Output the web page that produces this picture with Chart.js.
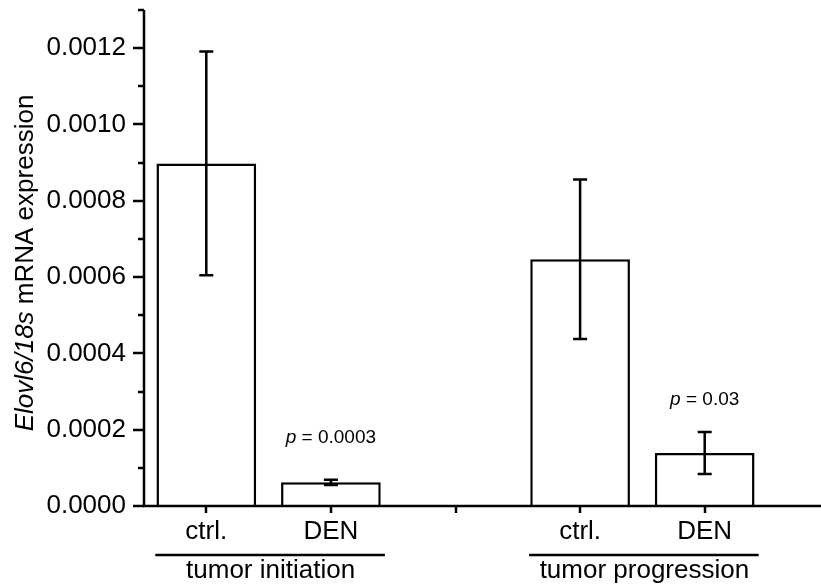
<!DOCTYPE html>
<html>
<head>
<meta charset="utf-8">
<script src="https://cdn.jsdelivr.net/npm/chart.js@4/dist/chart.umd.min.js"></script>
<style>
  html, body { margin: 0; padding: 0; background: #fff; }
  #wrap { width: 821px; height: 588px; }
</style>
</head>
<body>
<div id="wrap"><canvas id="barChart" width="821" height="588"></canvas></div>
<script>
// data
var categories = ['ctrl.', 'DEN', '', 'ctrl.', 'DEN'];
var means      = [0.000898, 0.000062, null, 0.000647, 0.000139];
var errors     = [0.000293, 0.000007, null, 0.000209, 0.000055];
var pTexts     = ['', '0.0003', '', '', '0.03'];
var pAnchors   = [null, 0.00018, null, null, 0.000278];
var groups     = ['tumor initiation', 'tumor progression'];
var groupCats  = [[0, 1], [3, 4]];
var yTicks     = [0, 0.0002, 0.0004, 0.0006, 0.0008, 0.0010, 0.0012];
var yMinor     = [0.0001, 0.0003, 0.0005, 0.0007, 0.0009, 0.0011, 0.0013];

var FONT = '"Liberation Sans", Arial, sans-serif';

// axes, error bars and annotations drawn on top
var figurePlugin = {
    id: 'figure',
    afterDatasetsDraw: function(chart) {
        var ctx = chart.ctx;
        var xs = chart.scales.x;
        var ys = chart.scales.y;
        var area = chart.chartArea;
        var bars = chart.getDatasetMeta(0).data;

        ctx.save();
        ctx.strokeStyle = '#000';
        ctx.fillStyle = '#000';
        ctx.lineWidth = 2.5;
        ctx.lineCap = 'butt';

        // error bars
        for (var i = 0; i < means.length; i++) {
            if (means[i] == null) continue;
            var x = bars[i].x;
            var yt = ys.getPixelForValue(means[i] + errors[i]);
            var yb = ys.getPixelForValue(means[i] - errors[i]);
            ctx.beginPath();
            ctx.moveTo(x, yt); ctx.lineTo(x, yb);
            ctx.moveTo(x - 7, yt); ctx.lineTo(x + 7, yt);
            ctx.moveTo(x - 7, yb); ctx.lineTo(x + 7, yb);
            ctx.stroke();
        }

        // y axis line + ticks
        ctx.beginPath();
        ctx.moveTo(area.left, area.top);
        ctx.lineTo(area.left, area.bottom + 1);
        yTicks.forEach(function(v) {
            var y = Math.round(ys.getPixelForValue(v));
            ctx.moveTo(area.left - 11, y); ctx.lineTo(area.left, y);
        });
        yMinor.forEach(function(v) {
            var y = Math.round(ys.getPixelForValue(v));
            ctx.moveTo(area.left - 6, y); ctx.lineTo(area.left, y);
        });
        ctx.stroke();

        // x axis line runs to the edge, ticks point down
        ctx.beginPath();
        ctx.moveTo(area.left - 1, area.bottom);
        ctx.lineTo(chart.width, area.bottom);
        for (var k = 0; k < categories.length; k++) {
            var tx = Math.round(xs.getPixelForValue(k));
            ctx.moveTo(tx, area.bottom); ctx.lineTo(tx, area.bottom + 7);
        }
        ctx.stroke();

        // p values
        ctx.textBaseline = 'middle';
        for (var j = 0; j < pTexts.length; j++) {
            if (!pTexts[j]) continue;
            var cx = xs.getPixelForValue(j);
            var cy = ys.getPixelForValue(pAnchors[j]);
            ctx.font = 'italic 19px ' + FONT;
            var w1 = ctx.measureText('p').width;
            ctx.font = '19px ' + FONT;
            var rest = ' = ' + pTexts[j];
            var w2 = ctx.measureText(rest).width;
            var sx = cx - (w1 + w2) / 2;
            ctx.textAlign = 'left';
            ctx.font = 'italic 19px ' + FONT;
            ctx.fillText('p', sx, cy);
            ctx.font = '19px ' + FONT;
            ctx.fillText(rest, sx + w1, cy);
        }

        // group brackets
        ctx.font = '26px ' + FONT;
        ctx.textAlign = 'center';
        ctx.textBaseline = 'alphabetic';
        groups.forEach(function(name, g) {
            var a = xs.getPixelForValue(groupCats[g][0]);
            var b = xs.getPixelForValue(groupCats[g][1]);
            ctx.beginPath();
            ctx.moveTo(a - 51, 555); ctx.lineTo(b + 54, 555);
            ctx.stroke();
            ctx.fillText(name, (a + b) / 2 + 2, 578);
        });

        // y title with italic gene name
        ctx.translate(33, (area.top + area.bottom) / 2 + 5);
        ctx.rotate(-Math.PI / 2);
        ctx.font = 'italic 26px ' + FONT;
        var t1 = 'Elovl6/18s';
        var a1 = ctx.measureText(t1).width;
        ctx.font = '26px ' + FONT;
        var t2 = ' mRNA expression';
        var a2 = ctx.measureText(t2).width;
        ctx.textAlign = 'left';
        ctx.font = 'italic 26px ' + FONT;
        ctx.fillText(t1, -(a1 + a2) / 2, 0);
        ctx.font = '26px ' + FONT;
        ctx.fillText(t2, -(a1 + a2) / 2 + a1, 0);

        ctx.restore();
    }
};

var ctx1 = document.getElementById('barChart');
var barChart = new Chart(ctx1, {
    type: 'bar',
    plugins: [figurePlugin],
    data: {
        labels: categories,
        datasets: [{
            data: means,
            backgroundColor: '#ffffff',
            borderColor: '#000000',
            borderWidth: 2.5,
            barPercentage: 0.8,
            categoryPercentage: 1.0
        }]
    },
    options: {
        responsive: false,
        animation: false,
        layout: { padding: { top: 10, right: 54, left: 0, bottom: 0 } },
        plugins: {
            legend: { display: false },
            tooltip: { enabled: false }
        },
        scales: {
            x: {
                offset: true,
                grid: { display: false, drawTicks: false },
                border: { display: false },
                ticks: {
                    color: '#000',
                    padding: 10,
                    maxRotation: 0,
                    autoSkip: false,
                    font: { family: FONT, size: 26 }
                },
                afterFit: function(s) {
                    s.height = 82;
                    s.paddingLeft = 0;
                    s.paddingRight = 0;
                }
            },
            y: {
                min: 0,
                max: 0.0013,
                grid: { display: false, drawTicks: false },
                border: { display: false },
                ticks: {
                    color: '#000',
                    padding: 18,
                    font: { family: FONT, size: 26 },
                    callback: function(v) { return v.toFixed(4); }
                },
                afterBuildTicks: function(s) {
                    s.ticks = yTicks.map(function(v) { return { value: v }; });
                },
                afterFit: function(s) {
                    s.width = 144;
                    s.paddingTop = 0;
                    s.paddingBottom = 0;
                }
            }
        }
    }
});
</script>
</body>
</html>
